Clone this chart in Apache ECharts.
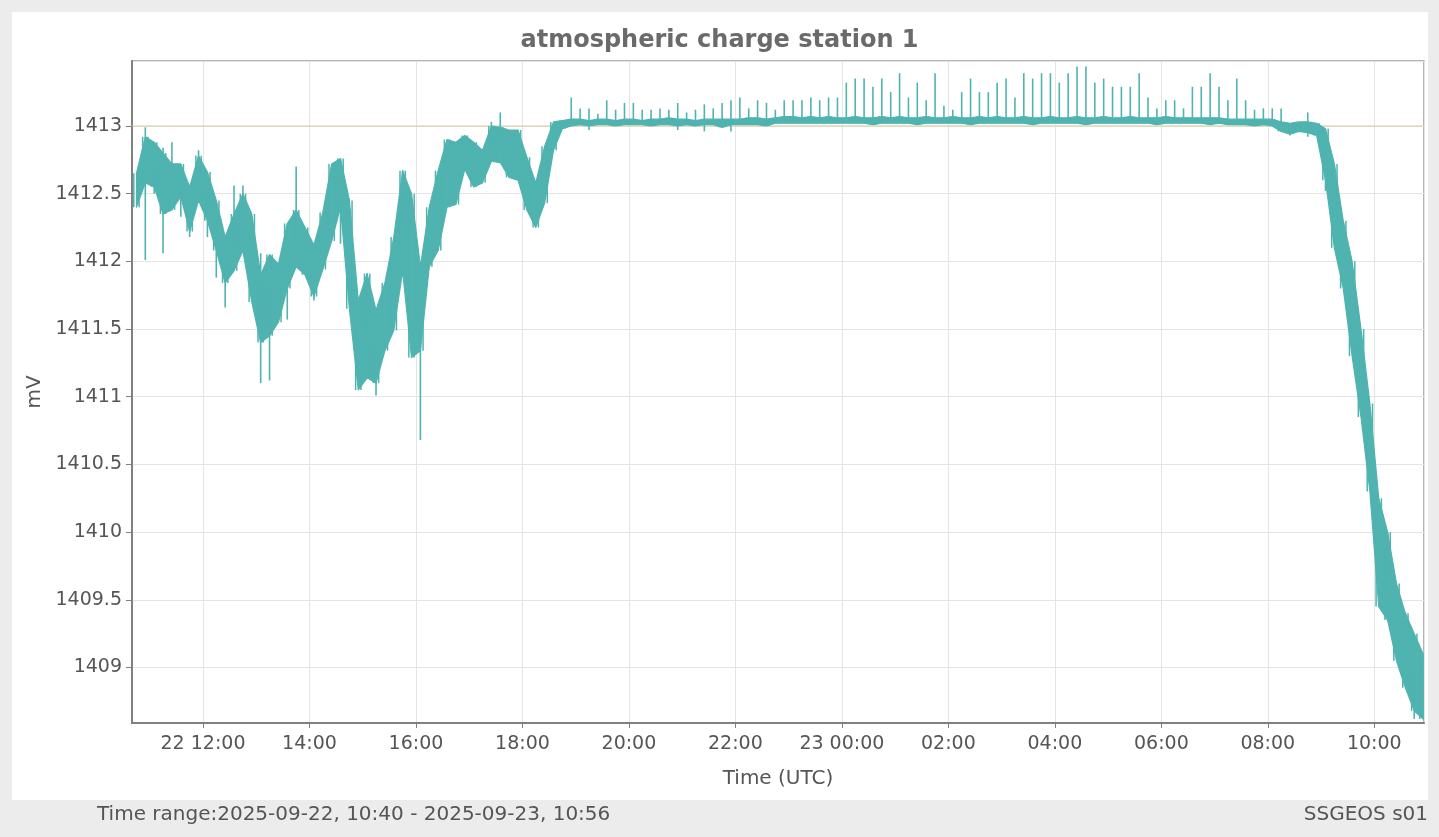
<!DOCTYPE html>
<html><head><meta charset="utf-8">
<script src="https://cdn.jsdelivr.net/npm/echarts@6/dist/echarts.min.js"></script>
<style>
html,body{margin:0;padding:0;background:#ececec;overflow:hidden;}
#panel{position:absolute;left:12px;top:12px;width:1416px;height:788px;background:#fff;}
#c{position:absolute;left:0;top:0;width:1439px;height:837px;}
</style>
</head><body><div id="panel"></div><div id="c"></div>
<script>
// ---- texts ----
const chartTitle = 'atmospheric charge station 1';
const yAxisName = 'mV';
const xAxisName = 'Time (UTC)';
const footerLeft = 'Time range:2025-09-22, 10:40 - 2025-09-23, 10:56';
const footerRight = 'SSGEOS s01';

// ---- time range ----
const startTime = '2025-09-22T10:40:00Z';
const endTime = '2025-09-23T10:56:00Z';
const binMinutes = 10;            // each band value below covers 10 minutes from startTime
const firstTickTime = '2025-09-22T12:00:00Z';
const xTickLabels = ['22 12:00','14:00','16:00','18:00','20:00','22:00','23 00:00','02:00','04:00','06:00','08:00','10:00'];
const yTickValues = [1409, 1409.5, 1410, 1410.5, 1411, 1411.5, 1412, 1412.5, 1413];
const yMin = 1408.59, yMax = 1413.48;
const refLevel = 1413;

// ---- band envelope (low / high of the dense signal) per 10-minute bin ----
const bandLo = [
 1412.40,1412.58,1412.55,1412.35,1412.38,1412.48,1412.22,1412.45,1412.30,1412.08,
 1411.84,1411.93,1412.08,1411.70,1411.40,1411.45,1411.55,1411.80,1411.96,1411.90,
 1411.74,1411.94,1412.15,1412.40,1411.65,1411.05,1411.14,1411.10,1411.34,1411.49,
 1411.93,1411.29,1411.34,1411.96,1412.08,1412.40,1412.42,1412.68,1412.55,1412.58,
 1412.74,1412.73,1412.62,1412.60,1412.38,1412.25,1412.43,1412.82,1412.98,1413.00,
 1413.01,1413.00,1413.01,1413.01,1413.00,1413.01,1413.01,1413.01,1413.00,1413.01,
 1413.01,1413.00,1413.01,1413.00,1413.01,1413.01,1412.99,1413.01,1413.01,1413.01,
 1413.01,1413.00,1413.02,1413.02,1413.02,1413.02,1413.02,1413.02,1413.02,1413.02,
 1413.02,1413.02,1413.02,1413.01,1413.02,1413.02,1413.02,1413.02,1413.01,1413.02,
 1413.02,1413.02,1413.02,1413.02,1413.01,1413.02,1413.02,1413.02,1413.02,1413.02,
 1413.02,1413.01,1413.02,1413.02,1413.02,1413.02,1413.02,1413.01,1413.02,1413.02,
 1413.02,1413.02,1413.02,1413.02,1413.02,1413.01,1413.02,1413.02,1413.02,1413.02,
 1413.02,1413.01,1413.02,1413.01,1413.01,1413.01,1413.00,1413.01,1413.00,1412.96,
 1412.94,1412.96,1412.95,1412.93,1412.60,1412.10,1411.80,1411.30,1410.85,1410.30,
 1409.45,1409.35,1409.05,1408.85,1408.68,1408.62
];
const bandHi = [
 1412.65,1412.92,1412.88,1412.80,1412.72,1412.72,1412.55,1412.78,1412.66,1412.45,
 1412.18,1412.35,1412.50,1412.35,1411.90,1412.05,1411.98,1412.28,1412.38,1412.25,
 1412.12,1412.36,1412.72,1412.76,1412.45,1411.71,1411.91,1411.64,1411.84,1412.18,
 1412.67,1412.50,1411.96,1412.40,1412.67,1412.90,1412.88,1412.93,1412.88,1412.82,
 1413.00,1412.99,1412.97,1412.97,1412.77,1412.58,1412.85,1413.03,1413.04,1413.05,
 1413.05,1413.04,1413.05,1413.05,1413.04,1413.05,1413.05,1413.04,1413.05,1413.05,
 1413.06,1413.05,1413.05,1413.04,1413.05,1413.05,1413.05,1413.05,1413.05,1413.06,
 1413.06,1413.05,1413.06,1413.07,1413.07,1413.06,1413.07,1413.06,1413.07,1413.06,
 1413.06,1413.07,1413.06,1413.06,1413.07,1413.06,1413.07,1413.06,1413.06,1413.07,
 1413.06,1413.06,1413.07,1413.06,1413.06,1413.07,1413.06,1413.07,1413.06,1413.06,
 1413.07,1413.06,1413.06,1413.07,1413.06,1413.06,1413.07,1413.06,1413.06,1413.07,
 1413.06,1413.06,1413.07,1413.06,1413.06,1413.06,1413.07,1413.06,1413.06,1413.06,
 1413.06,1413.06,1413.06,1413.05,1413.05,1413.05,1413.05,1413.05,1413.05,1413.03,
 1413.02,1413.03,1413.03,1413.02,1412.98,1412.72,1412.30,1412.00,1411.50,1410.95,
 1410.25,1410.00,1409.62,1409.40,1409.25,1409.10
];

// ---- isolated spikes (hairs): bin index and extreme value ----
const spikeBin = [1,1,2,3,3,4,5,6,7,8,9,10,11,12,14,14,15,17,18,20,23,26,27,30,32,40,41,
 49,50,51,51,52,53,54,55,56,57,58,59,60,61,61,62,63,64,64,65,66,67,67,68,69,70,71,72,73,74,75,76,77,78,79,
 80,81,82,83,84,85,86,87,88,89,90,91,92,93,94,95,96,97,98,99,100,101,102,103,104,105,106,107,108,109,
 110,111,112,113,114,115,116,117,118,119,120,121,122,123,124,125,126,127,128,129,130,132,132,134,141,143,144];
const spikeVal = [1412.01,1412.99,1412.50,1412.06,1412.84,1412.88,1412.33,1412.18,1412.82,1412.18,1411.88,1411.66,1412.56,1412.56,1411.10,1412.06,1411.12,1411.57,1412.70,1411.71,1412.13,1411.91,1411.01,1412.67,1410.68,1413.03,1413.10,
 1413.21,1413.13,1413.13,1412.97,1413.09,1413.19,1413.12,1413.17,1413.17,1413.12,1413.12,1413.13,1413.12,1413.17,1412.97,1413.10,1413.12,1413.16,1412.96,1413.13,1413.17,1413.19,1412.96,1413.21,1413.13,1413.19,1413.17,1413.12,1413.19,1413.19,1413.19,1413.21,1413.19,1413.21,1413.21,
 1413.32,1413.35,1413.35,1413.29,1413.35,1413.25,1413.39,1413.21,1413.32,1413.19,1413.39,1413.15,1413.12,1413.25,1413.35,1413.25,1413.25,1413.32,1413.35,1413.21,1413.39,1413.35,1413.39,1413.39,1413.32,1413.39,1413.44,1413.44,1413.32,1413.35,
 1413.29,1413.29,1413.29,1413.39,1413.21,1413.13,1413.19,1413.19,1413.13,1413.29,1413.29,1413.39,1413.29,1413.19,1413.35,1413.19,1413.12,1413.13,1413.13,1413.13,1412.93,1413.10,1412.92,1412.52,1410.00,1409.41,1408.62];

// ---- build tables ----
const FONT = '"DejaVu Sans", sans-serif';
const LINE = '#4fb3b0';
const t0 = Date.parse(startTime), tEnd = Date.parse(endTime);
const binMs = binMinutes * 60000;
const centers = bandLo.map((_, i) => t0 + i * binMs + binMs / 2);
const binData = bandLo.map((lo, i) => [t0 + i * binMs, Math.min(t0 + (i + 1) * binMs, tEnd), lo, bandHi[i]]);
const spikeData = spikeBin.map((b, k) => [centers[b], (bandLo[b] + bandHi[b]) / 2, spikeVal[k]]);
const t12 = Date.parse(firstTickTime);

const chart = echarts.init(document.getElementById('c'), null, {renderer: 'canvas'});
chart.setOption({
  useUTC: true,
  backgroundColor: 'transparent',
  animation: false,
  title: {
    text: chartTitle, left: 'center', top: 24,
    textStyle: {fontFamily: FONT, fontWeight: 'bold', fontSize: 24, color: '#6a6a6a'}
  },
  grid: {left: 132, top: 61, right: 15, bottom: 114, show: true, borderColor: '#9a9a9a', borderWidth: 1.5, backgroundColor: '#fff'},
  xAxis: {
    type: 'time', min: t0, max: tEnd, splitNumber: 10,
    name: xAxisName, nameLocation: 'middle', nameGap: 46,
    nameTextStyle: {fontFamily: FONT, fontSize: 20, color: '#555'},
    axisLine: {show: true, lineStyle: {color: '#808080', width: 2}},
    axisTick: {show: true, length: 5, lineStyle: {color: '#808080'}},
    minorTick: {show: false},
    splitLine: {show: true, lineStyle: {color: '#e4e4e4', width: 1}},
    axisLabel: {
      margin: 12, fontFamily: FONT, fontSize: 19, color: '#555', showMinLabel: false, showMaxLabel: false,
      formatter: function (v) {
        const idx = Math.round((v - t12) / 7200000);
        if (Math.abs(v - (t12 + idx * 7200000)) < 60000 && idx >= 0 && idx < xTickLabels.length) return xTickLabels[idx];
        return '';
      }
    }
  },
  yAxis: {
    type: 'value', min: yMin, max: yMax, splitNumber: 10, scale: true,
    name: yAxisName, nameLocation: 'middle', nameGap: 77, nameRotate: 90,
    nameTextStyle: {fontFamily: FONT, fontSize: 20, color: '#555'},
    axisLine: {show: true, lineStyle: {color: '#808080', width: 2}},
    axisTick: {show: true, length: 6, lineStyle: {color: '#808080'}},
    splitLine: {show: true, lineStyle: {color: '#e4e4e4', width: 1}},
    axisLabel: {
      margin: 10, fontFamily: FONT, fontSize: 19, color: '#555', showMinLabel: false, showMaxLabel: false,
      formatter: function (v) {
        const r = Math.round(v * 10) / 10;
        return yTickValues.indexOf(r) >= 0 && Math.abs(r - v) < 1e-6 ? String(r) : '';
      }
    }
  },
  graphic: [
    {type: 'text', left: 97, top: 805, style: {text: footerLeft, font: '20px ' + FONT, fill: '#555'}},
    {type: 'text', right: 11, top: 805, style: {text: footerRight, font: '20px ' + FONT, fill: '#555'}}
  ],
  series: [
    {
      type: 'custom', name: 'ref', z: 1, silent: true, clip: true,
      data: [[t0, tEnd, refLevel]],
      renderItem: function (params, api) {
        const a = api.coord([api.value(0), api.value(2)]);
        const b = api.coord([api.value(1), api.value(2)]);
        return {type: 'line', shape: {x1: a[0], y1: a[1], x2: b[0], y2: b[1]}, style: {stroke: '#d8cc9c', lineWidth: 1}};
      }
    },
    {
      type: 'custom', name: 'band', z: 2, silent: true, clip: true,
      data: [[t0, bandLo[0]]],
      renderItem: function (params, api) {
        const pts = [];
        for (let i = 0; i < centers.length; i++) pts.push(api.coord([centers[i], bandHi[i]]));
        for (let i = centers.length - 1; i >= 0; i--) pts.push(api.coord([centers[i], bandLo[i]]));
        return {type: 'polygon', shape: {points: pts}, style: {fill: LINE, stroke: LINE, lineWidth: 1.2, lineJoin: 'round'}};
      }
    },
    {
      type: 'custom', name: 'binStrokes', z: 2, silent: true, clip: true,
      encode: {x: [0, 1], y: [2, 3]},
      data: binData,
      renderItem: function (params, api) {
        const s = api.value(0), e = api.value(1), lo = api.value(2), hi = api.value(3);
        const kids = [];
        [0.2, 0.8].forEach(function (f) {
          const t = s + (e - s) * f;
          const a = api.coord([t, hi]), b = api.coord([t, lo]);
          kids.push({type: 'line', shape: {x1: a[0], y1: a[1], x2: b[0], y2: b[1]}, style: {stroke: LINE, lineWidth: 1.5}});
        });
        return {type: 'group', children: kids};
      }
    },
    {
      type: 'custom', name: 'spikes', z: 3, silent: true, clip: true,
      encode: {x: 0, y: [1, 2]},
      data: spikeData,
      renderItem: function (params, api) {
        const a = api.coord([api.value(0), api.value(1)]);
        const b = api.coord([api.value(0), api.value(2)]);
        return {type: 'line', shape: {x1: a[0], y1: a[1], x2: b[0], y2: b[1]}, style: {stroke: LINE, lineWidth: 1.6}};
      }
    }
  ]
});
</script>
</body></html>
